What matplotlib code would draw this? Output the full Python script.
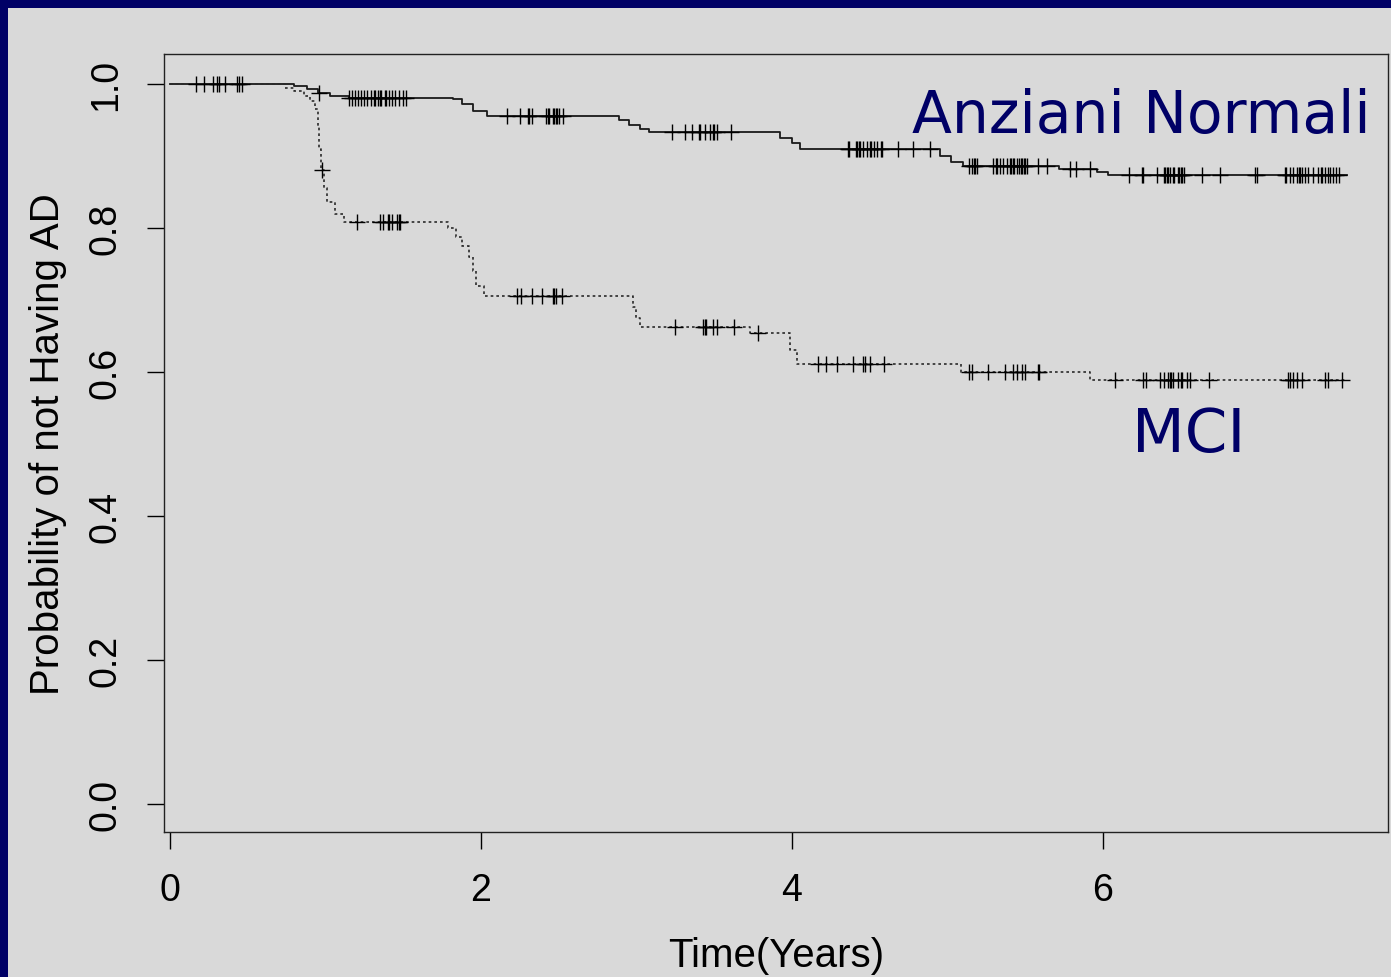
"""
Curve di Kaplan-Meier: probabilità di non sviluppare AD
Anziani Normali vs MCI
"""
import matplotlib
matplotlib.use('Agg')
import matplotlib.pyplot as plt
from matplotlib.patches import Rectangle
import numpy as np

plt.rcParams['font.family'] = ['Liberation Sans', 'DejaVu Sans']

# --- Anziani Normali: tempi degli eventi e sopravvivenza dopo ciascuno
norm_t = [0.0, 0.80, 0.88, 0.95, 1.03, 1.15, 1.82, 1.88, 1.95, 2.04,
          2.89, 2.95, 3.02, 3.08, 3.92, 4.00, 4.05, 4.95, 5.02, 5.10,
          5.72, 5.96, 6.03]
norm_s = [1.000, 0.997, 0.993, 0.988, 0.983, 0.981, 0.979, 0.972, 0.963, 0.955,
          0.950, 0.943, 0.937, 0.933, 0.925, 0.918, 0.910, 0.900, 0.892, 0.886,
          0.882, 0.878, 0.873]
norm_cens = [0.165, 0.22, 0.275, 0.30, 0.315, 0.355, 0.43, 0.445, 0.465, 0.96,
             1.15, 1.17, 1.19, 1.21, 1.23, 1.25, 1.27, 1.29, 1.31, 1.32, 1.34,
             1.35, 1.36, 1.38, 1.39, 1.41, 1.43, 1.45, 1.47, 1.50, 1.52,
             2.17, 2.25, 2.30, 2.31, 2.33, 2.42, 2.43, 2.44, 2.46, 2.47, 2.48,
             2.49, 2.50, 2.53,
             3.23, 3.31, 3.36, 3.40, 3.41, 3.44, 3.47, 3.49, 3.50, 3.52, 3.61,
             4.36, 4.37, 4.41, 4.42, 4.43, 4.44, 4.46, 4.48, 4.50, 4.51, 4.53,
             4.55, 4.57, 4.58, 4.68, 4.78, 4.89,
             5.14, 5.16, 5.17, 5.18, 5.19, 5.29, 5.31, 5.32, 5.34, 5.36, 5.38,
             5.40, 5.41, 5.42, 5.43, 5.45, 5.46, 5.47, 5.48, 5.49, 5.50, 5.51,
             5.58, 5.64, 5.79, 5.83, 5.92,
             6.17, 6.25, 6.26, 6.35, 6.39, 6.40, 6.41, 6.42, 6.43, 6.45, 6.46,
             6.48, 6.49, 6.50, 6.51, 6.52, 6.64, 6.75, 6.98, 6.99,
             7.17, 7.18, 7.20, 7.22, 7.25, 7.26, 7.27, 7.28, 7.30, 7.32, 7.35,
             7.38, 7.40, 7.41, 7.43, 7.45, 7.46, 7.48, 7.50, 7.52]

# --- MCI
mci_t = [0.0, 0.74, 0.80, 0.86, 0.90, 0.93, 0.95, 0.96, 0.97, 0.99, 1.01,
         1.06, 1.12, 1.79, 1.84, 1.88, 1.92, 1.95, 1.97, 2.02,
         2.98, 3.00, 3.02, 3.73, 3.99, 4.03, 5.09, 5.92]
mci_s = [1.000, 0.995, 0.990, 0.983, 0.977, 0.965, 0.940, 0.910, 0.880, 0.855, 0.836,
         0.820, 0.808, 0.800, 0.788, 0.775, 0.760, 0.740, 0.720, 0.706,
         0.690, 0.675, 0.662, 0.654, 0.630, 0.611, 0.600, 0.589]
mci_cens = [0.975, 1.20, 1.35, 1.37, 1.40, 1.41, 1.43, 1.46, 1.47, 1.48,
            2.23, 2.26, 2.33, 2.39, 2.46, 2.47, 2.48, 2.52,
            3.25, 3.43, 3.44, 3.45, 3.49, 3.52, 3.63, 3.78,
            4.17, 4.22, 4.29, 4.39, 4.46, 4.47, 4.50, 4.59,
            5.14, 5.16, 5.26, 5.37, 5.42, 5.45, 5.48, 5.50, 5.58, 5.59,
            6.08, 6.26, 6.28, 6.37, 6.39, 6.42, 6.43, 6.44, 6.45, 6.48, 6.50,
            6.51, 6.54, 6.56, 6.68, 7.19, 7.20, 7.22, 7.25, 7.28, 7.43, 7.45, 7.54]

t_end = 7.57


def km_at(t, times, surv):
    idx = np.searchsorted(times, t, side='right') - 1
    return np.asarray(surv)[idx]


BG = '#d9d9d9'
NAVY = '#000066'

fig = plt.figure(figsize=(13.91, 9.78), dpi=100, facecolor=BG)
ax = fig.add_axes([0.1179, 0.1483, 0.8799, 0.7955])
ax.set_facecolor(BG)

# curve
ax.step(norm_t + [t_end], norm_s + [norm_s[-1]], where='post',
        color='#1a1a1a', linewidth=1.3)
ax.step(mci_t + [t_end], mci_s + [mci_s[-1]], where='post',
        color='#2a2a2a', linewidth=1.2, linestyle=(0, (1.6, 1.8)))

# osservazioni censurate
ax.plot(norm_cens, km_at(norm_cens, norm_t, norm_s), linestyle='none',
        marker='+', markersize=11, markeredgewidth=1.0, color='black')
ax.plot(mci_cens, km_at(mci_cens, mci_t, mci_s), linestyle='none',
        marker='+', markersize=11, markeredgewidth=1.0, color='black')

ax.set_xlim(-0.0386, 7.833)
ax.set_ylim(-0.0389, 1.0417)
ax.set_xticks([0, 2, 4, 6])
ax.set_yticks([0.0, 0.2, 0.4, 0.6, 0.8, 1.0])
ax.set_yticklabels(['0.0', '0.2', '0.4', '0.6', '0.8', '1.0'],
                   rotation=90, va='center')
ax.tick_params(axis='both', direction='out', length=12, width=1.0,
               labelsize=27, pad=17, colors='black')
for sp in ax.spines.values():
    sp.set_linewidth(1.0)
    sp.set_color('#222222')

ax.set_xlabel('Time(Years)', fontsize=29, labelpad=20)
ax.set_ylabel('Probability of not Having AD', fontsize=29, labelpad=15)

# etichette dei gruppi
ax.text(4.77, 0.933, 'Anziani Normali', color=NAVY, fontsize=42,
        family='DejaVu Sans', va='baseline', ha='left')
ax.text(6.19, 0.49, 'MCI', color=NAVY, fontsize=44,
        family='DejaVu Sans', va='baseline', ha='left')

# cornice blu della slide
fig.add_artist(Rectangle((0, 1 - 9 / 978), 1, 9 / 978, transform=fig.transFigure,
                         facecolor=NAVY, edgecolor='none'))
fig.add_artist(Rectangle((0, 0), 8 / 1391, 1, transform=fig.transFigure,
                         facecolor=NAVY, edgecolor='none'))

fig.savefig('out.png', dpi=100, facecolor=BG)
print("saved: out.png")
